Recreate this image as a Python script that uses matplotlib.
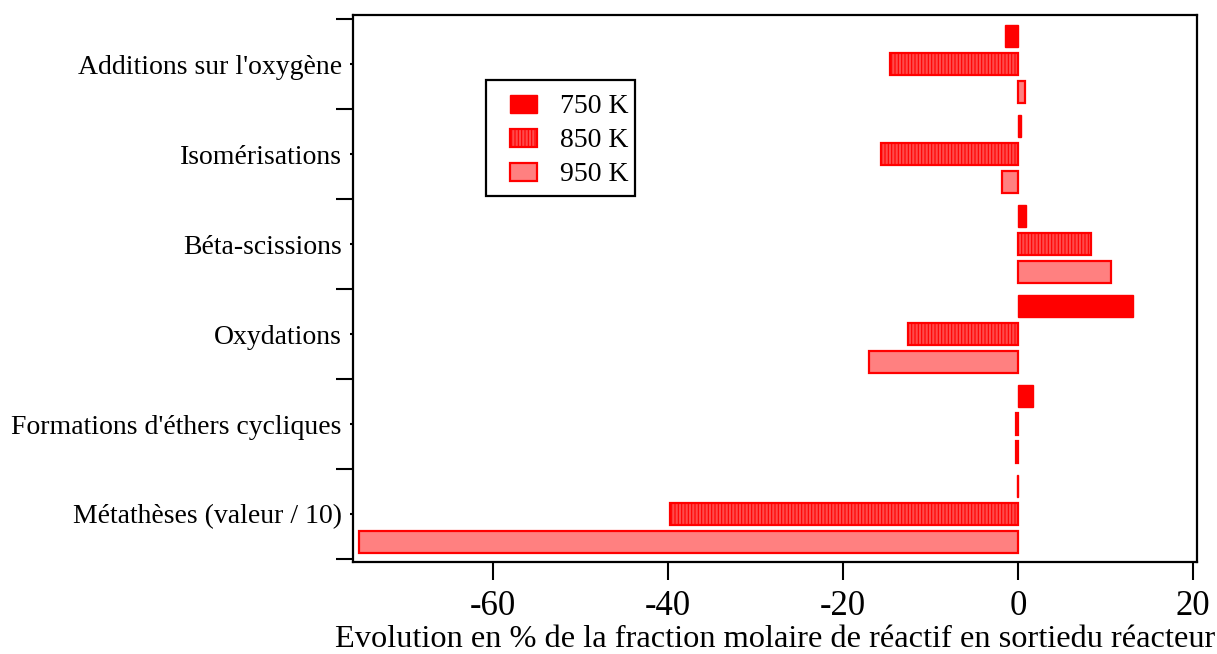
import numpy as np
import matplotlib
matplotlib.use('Agg')
import matplotlib.pyplot as plt
from matplotlib.patches import Rectangle
from matplotlib.legend_handler import HandlerPatch

plt.rcParams['font.family'] = ['Liberation Serif', 'DejaVu Serif']
plt.rcParams['hatch.linewidth'] = 0.8

# categories from bottom to top
categories = ["Métathèses (valeur / 10)", "Formations d'éthers cycliques", "Oxydations",
              "Béta-scissions", "Isomérisations", "Additions sur l'oxygène"]
temperatures = ["750 K", "850 K", "950 K"]

v750 = [-0.1, 1.7, 13.1, 0.9, 0.3, -1.5]
v850 = [-39.8, -0.25, -12.6, 8.3, -15.6, -14.6]
v950 = [-75.3, -0.2, -17.0, 10.6, -1.8, 0.85]

xticks = [-60, -40, -20, 0, 20]

fig = plt.figure(figsize=(12.17, 6.54), dpi=100)
ax = fig.add_axes([0.290, 0.1407, 0.6936, 0.8363])

y = np.arange(len(categories))
off = 0.311
h = 0.255

b1 = ax.barh(y + off, v750, height=h, color='#ff0000', edgecolor='#ff0000', linewidth=1.0)
b2 = ax.barh(y, v850, height=h, facecolor='#ff4a4a', edgecolor='#ff0000', linewidth=1.6,
             hatch='|||||')
b3 = ax.barh(y - off, v950, height=h, facecolor='#ff8080', edgecolor='#ff0000', linewidth=1.6)

ax.set_xlim(-76.0, 20.46)
ax.set_ylim(-0.533, 5.544)

# major ticks at group boundaries, labels at group centers
ax.set_yticks(np.arange(-0.5, len(categories), 1.0))
ax.set_yticklabels([])
ax.set_yticks(y, minor=True)
ax.set_yticklabels(categories, minor=True, fontsize=20)
ax.tick_params(axis='y', which='major', length=12, width=1.5, direction='out')
ax.tick_params(axis='y', which='minor', length=2, width=1.5, pad=6)

ax.set_xticks(xticks)
ax.set_xticklabels([str(t) for t in xticks], fontsize=25)
ax.tick_params(axis='x', length=13, width=1.5, pad=7)

for s in ax.spines.values():
    s.set_linewidth(1.6)

ax.set_xlabel("Evolution en % de la fraction molaire de réactif en sortiedu réacteur",
              fontsize=23.3, labelpad=1.5)


def small_box(legend, orig_handle, xdescent, ydescent, width, height, fontsize):
    # rectangle sits at the right end of the handle area, vertically centred
    w = 0.97 * fontsize
    hh = 0.65 * fontsize
    return Rectangle((-xdescent + width - w, -ydescent + (height - hh) / 2), w, hh)


handles = [b1.patches[0], b2.patches[0], b3.patches[0]]
leg = ax.legend(handles, temperatures, loc='upper left', bbox_to_anchor=(0.1576, 0.881),
                borderaxespad=0, fontsize=20, fancybox=False, framealpha=1, edgecolor='black',
                handlelength=1.6, handleheight=1.5, handletextpad=0.8,
                labelspacing=0.0, borderpad=0.25,
                handler_map={Rectangle: HandlerPatch(patch_func=small_box)})
leg.get_frame().set_linewidth(1.6)

fig.savefig('out.png', dpi=100)
